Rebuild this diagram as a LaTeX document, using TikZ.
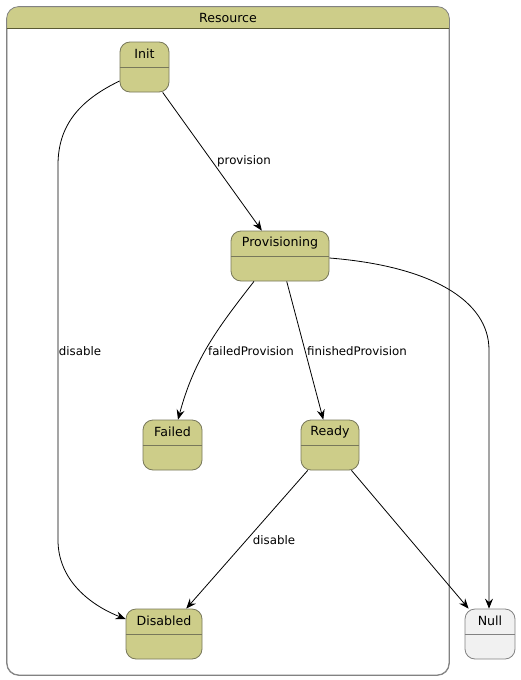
\documentclass[tikz,border=0pt]{standalone}
\usepackage{fontspec}
\setmainfont{DejaVu Sans}
\usetikzlibrary{arrows.meta}
\definecolor{statefill}{RGB}{205,205,137}
\definecolor{stateline}{RGB}{120,120,90}
\definecolor{headline}{RGB}{90,90,50}
\definecolor{boxline}{RGB}{130,130,130}
\definecolor{nullfill}{RGB}{241,241,241}
\definecolor{nullline}{RGB}{130,130,130}

\begin{document}
\begin{tikzpicture}[x=1pt,y=-1pt,
  state/.style={draw=stateline,fill=statefill,line width=0.8pt,rounded corners=10pt,inner sep=0pt,minimum height=50pt},
  nullstate/.style={state,draw=nullline,fill=nullfill},
  statename/.style={font=\fontsize{12.6}{15}\selectfont,inner sep=0pt},
  trans/.style={-{Stealth[length=10pt,width=8pt,inset=3.5pt]},line width=0.8pt},
  lbl/.style={font=\fontsize{11.8}{14}\selectfont,inner sep=0pt}]
\useasboundingbox (0,0) rectangle (521,680);
\node[draw=boxline,fill=white,rounded corners=12pt,line width=0.8pt,minimum width=442pt,minimum height=668pt] (resource) at (228,341) {};
\begin{scope}
\clip (resource.north west) rectangle (449,28);
\fill[statefill,rounded corners=12pt] (resource.north west) rectangle (resource.south east);
\end{scope}
\draw[boxline,line width=0.8pt,rounded corners=12pt] (resource.north west) rectangle (resource.south east);
\draw[headline,line width=0.8pt] (resource.north west |- 0,28) -- (resource.north east |- 0,28);
\node[statename] (resourcename) at (228,18) {Resource};

\node[state,minimum width=49pt] (init) at (144.5,67) {};
\node[statename] (initname) at ([yshift=-12.5pt]init.north) {Init};
\draw[stateline,line width=0.8pt] ([yshift=-26pt]init.north west) -- ([yshift=-26pt]init.north east);

\node[state,minimum width=98pt] (prov) at (280,256) {};
\node[statename] (provname) at ([yshift=-12.5pt]prov.north) {Provisioning};
\draw[stateline,line width=0.8pt] ([yshift=-26pt]prov.north west) -- ([yshift=-26pt]prov.north east);

\node[state,minimum width=59pt] (failed) at (172.5,445) {};
\node[statename] (failedname) at ([yshift=-12.5pt]failed.north) {Failed};
\draw[stateline,line width=0.8pt] ([yshift=-26pt]failed.north west) -- ([yshift=-26pt]failed.north east);

\node[state,minimum width=58pt] (ready) at (330,445) {};
\node[statename] (readyname) at ([yshift=-12.5pt]ready.north) {Ready};
\draw[stateline,line width=0.8pt] ([yshift=-26pt]ready.north west) -- ([yshift=-26pt]ready.north east);

\node[state,minimum width=76pt] (disabled) at (164,634) {};
\node[statename] (disabledname) at ([yshift=-12.5pt]disabled.north) {Disabled};
\draw[stateline,line width=0.8pt] ([yshift=-26pt]disabled.north west) -- ([yshift=-26pt]disabled.north east);

\node[nullstate,minimum width=50pt] (null) at (490,634) {};
\node[statename] (nullname) at ([yshift=-12.5pt]null.north) {Null};
\draw[nullline,line width=0.8pt] ([yshift=-26pt]null.north west) -- ([yshift=-26pt]null.north east);

\draw[trans] (init) -- (prov);
\draw[trans] ([yshift=-14pt]init.west) .. controls (80,100) and (58,125) .. (58,165) -- (58,540) .. controls (58,580) and (90,605) .. ([yshift=15pt]disabled.west);
\draw[trans] ([xshift=-26pt]prov.south) to[out=-128,in=75] ([xshift=5.5pt]failed.north);
\draw[trans] (prov) -- (ready);
\draw[trans] ([yshift=-2pt]prov.east) .. controls (430,266) and (489,300) .. (489,350) -- ([xshift=-1pt]null.north);
\draw[trans] (ready) -- (disabled);
\draw[trans] (ready) -- (null);

\node[lbl] (provisionlbl) at (244,161) {provision};
\node[lbl] (disablelbl) at (80,351) {disable};
\node[lbl] (failedlbl) at (251,351) {failedProvision};
\node[lbl] (finishedlbl) at (357,351) {finishedProvision};
\node[lbl] (readydisablelbl) at (274,540) {disable};
\end{tikzpicture}
\end{document}
